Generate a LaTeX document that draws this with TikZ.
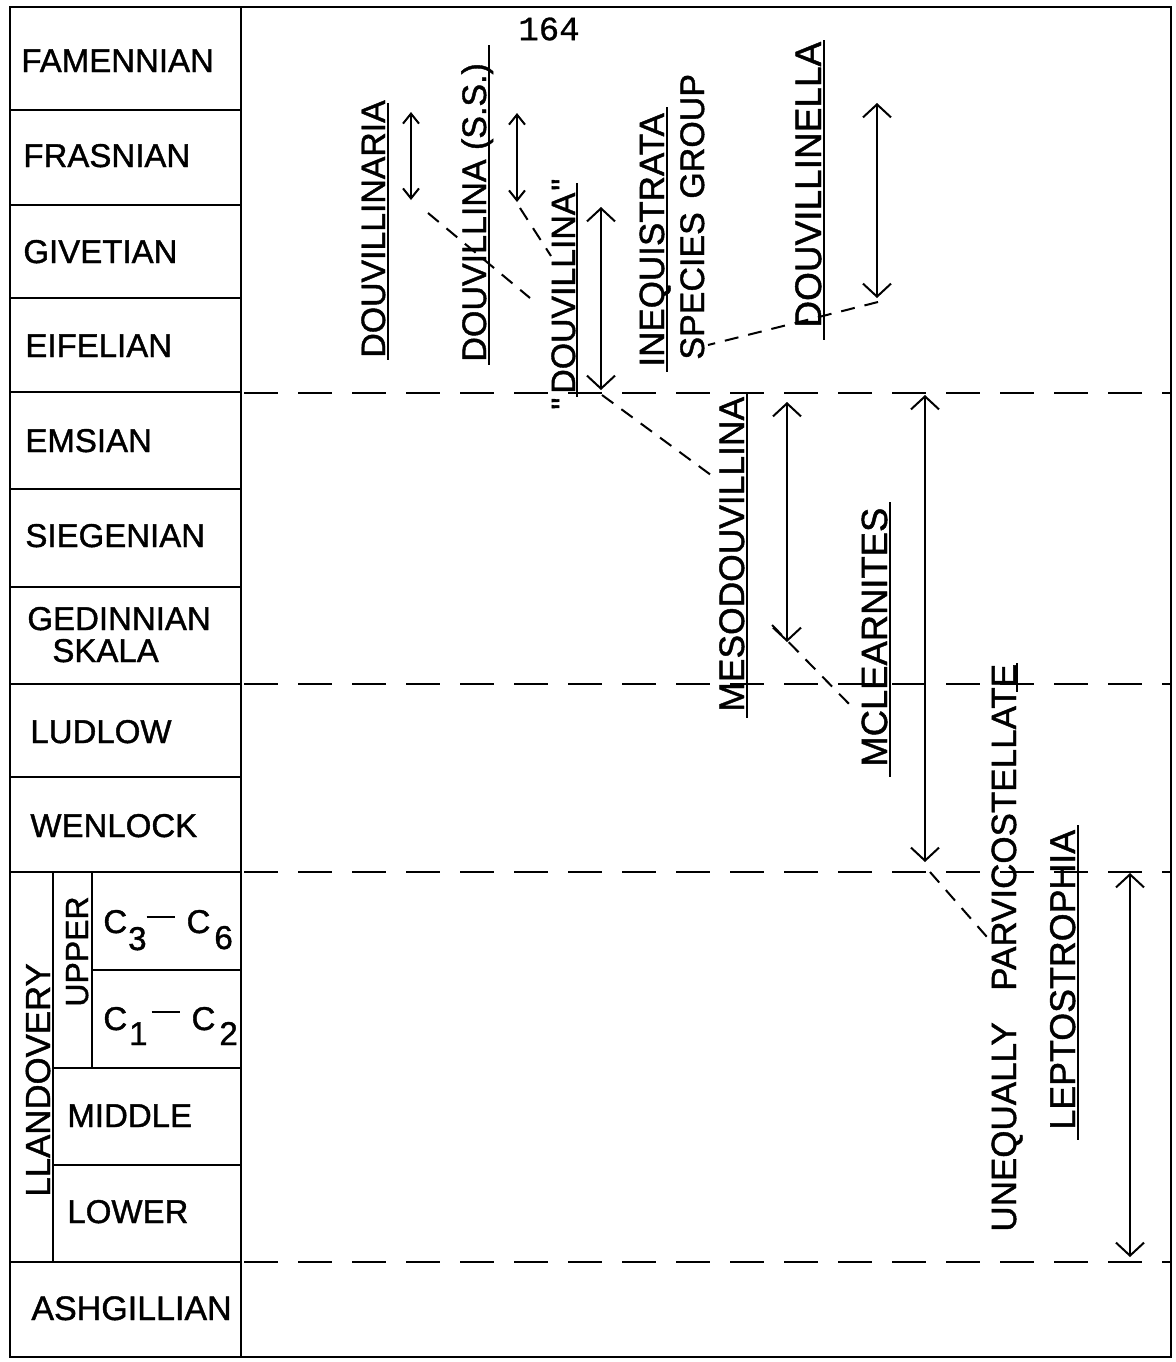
\documentclass[tikz,border=0pt]{standalone}
\usepackage{fontspec}
\setmainfont{Liberation Sans}[FakeBold=1.2]
\newfontfamily\monof{Liberation Mono}[FakeBold=0.8]
\usetikzlibrary{arrows.meta}
\begin{document}
\begin{tikzpicture}[x=0.5pt,y=-0.5pt,
  frame/.style={line width=1.4pt},
  bound/.style={line width=1.3pt, dash pattern=on 17pt off 10pt},
  link/.style={line width=1pt, dash pattern=on 7pt off 5pt},
  spanbig/.style={line width=1pt, {Straight Barb[length=6.5pt,width=14pt]}-{Straight Barb[length=6.5pt,width=14pt]}},
  spansm/.style={line width=1pt, {Straight Barb[length=5pt,width=8pt]}-{Straight Barb[length=5pt,width=8pt]}},
  uline/.style={line width=1pt},
  stage/.style={anchor=base west, inner sep=0pt, font=\fontsize{16.5}{18}\selectfont},
  taxon/.style={rotate=90, anchor=base west, inner sep=0pt, font=\fontsize{#1}{#1}\selectfont},
]
\useasboundingbox (0,0) rectangle (1175,1362);
\fill[white] (0,0) rectangle (1175,1362);

% frame and column
\draw[frame] (10,7) rectangle (1171,1357);
\draw[frame] (241,7) -- (241,1357);
\foreach \yy in {110,205,298,392,489,587,684,777,872,1262}
  \draw[frame] (10,\yy) -- (241,\yy);
\draw[frame] (92,970) -- (241,970);
\draw[frame] (53,1068) -- (241,1068);
\draw[frame] (53,1165) -- (241,1165);
\draw[frame] (53,872) -- (53,1262);
\draw[frame] (92,872) -- (92,1068);

% boundaries
\foreach \yy in {393,684,872,1262}
  \draw[bound] (244,\yy) -- (1171,\yy);

% stage names
\node[stage] (fam) at (21,72) {FAMENNIAN};
\node[stage] (fra) at (23,167) {FRASNIAN};
\node[stage] (giv) at (23,263) {GIVETIAN};
\node[stage] (eif) at (25,357) {EIFELIAN};
\node[stage] (ems) at (25,452) {EMSIAN};
\node[stage] (sie) at (25,547) {SIEGENIAN};
\node[stage] (ged) at (27,630) {GEDINNIAN};
\node[stage] (ska) at (52,662) {SKALA};
\node[stage] (lud) at (30,743) {LUDLOW};
\node[stage] (wen) at (30,837) {WENLOCK};
\node[stage] (cup) at (103,933) {C\kern0.5pt\raisebox{-8.5pt}{\fontsize{16.5}{16}\selectfont 3}\kern0pt\raisebox{7.5pt}{\rule{14pt}{1.2pt}}\kern6pt C\kern2pt\raisebox{-8pt}{\fontsize{16.5}{16}\selectfont 6}};
\node[stage] (clo) at (103,1030) {C\kern1pt\raisebox{-7.5pt}{\fontsize{16.5}{16}\selectfont 1}\kern2pt\raisebox{8.5pt}{\rule{14pt}{1.2pt}}\kern6pt C\kern2pt\raisebox{-7.5pt}{\fontsize{16.5}{16}\selectfont 2}};
\node[stage] (mid) at (67,1127) {MIDDLE};
\node[stage] (low) at (67,1223) {LOWER};
\node[stage, font=\fontsize{17}{18}\selectfont] (ash) at (31,1320) {ASHGILLIAN};
\node[taxon=17.4] (lla) at (50,1197) {LLANDOVERY};
\node[taxon=16] (upp) at (88,1007) {UPPER};

% page number
\node[font=\monof\fontsize{17}{17}\selectfont, inner sep=0pt] (pg) at (549,29) {164};

% taxa
\node[taxon=16.9] (t1) at (385,358) {DOUVILLINARIA};
\node[taxon=17] (t2) at (486,362) {DOUVILLINA (S.S.)};
\node[taxon=16.9] (t3) at (575,410) {\textquotedbl\hspace{2pt}DOUVILLINA\hspace{1pt}\textquotedbl};
\node[taxon=17.5] (t4) at (664,367) {INEQUISTRATA};
\node[taxon=17] (t5) at (704,360) {SPECIES\hspace{0.4em}GROUP};
\node[taxon=18.5] (t6) at (821,328) {DOUVILLINELLA};
\node[taxon=17.7] (t7) at (744,712) {MESODOUVILLINA};
\node[taxon=18.2] (t8) at (887,767) {MCLEARNITES};
\node[taxon=17.5] (t9) at (1016,1232) {UNEQUALLY\hspace{0.9em}PARVICOSTELLATE};
\node[taxon=17.9] (t10) at (1075,1130) {LEPTOSTROPHIA};

% underlines
\draw[uline] (388,103) -- (388,360);
\draw[uline] (489,45) -- (489,365);
\draw[uline] (577,183) -- (577,397);
\draw[uline] (667,107) -- (667,372);
\draw[uline] (824,40) -- (824,340);
\draw[uline] (747,392) -- (747,718);
\draw[uline] (890,502) -- (890,777);
\draw[uline] (1078,825) -- (1078,1140);
\draw[uline] (1017,663) -- (1017,692);

% ranges
\coordinate (a1t) at (411,112); \coordinate (a1b) at (411,200);
\coordinate (a2t) at (517,113); \coordinate (a2b) at (517,202);
\coordinate (a3t) at (601,207); \coordinate (a3b) at (601,390);
\coordinate (a4t) at (877,103); \coordinate (a4b) at (877,298);
\coordinate (a5t) at (787,402); \coordinate (a5b) at (787,642);
\coordinate (a6t) at (925,395); \coordinate (a6b) at (925,862);
\coordinate (a7t) at (1130,873); \coordinate (a7b) at (1130,1257);
\draw[spansm] (a1t) -- (a1b);
\draw[spansm] (a2t) -- (a2b);
\draw[spanbig] (a3t) -- (a3b);
\draw[spanbig] (a4t) -- (a4b);
\draw[spanbig] (a5t) -- (a5b);
\draw[spanbig] (a6t) -- (a6b);
\draw[spanbig] (a7t) -- (a7b);

% derivation links
\coordinate (c1s) at (428,213); \coordinate (c1e) at (530,298);
\coordinate (c2s) at (520,208); \coordinate (c2e) at (551,256);
\coordinate (c3s) at (602,395); \coordinate (c3e) at (715,478);
\coordinate (c4s) at (772,625); \coordinate (c4e) at (853,708);
\coordinate (c5s) at (930,872); \coordinate (c5e) at (987,937);
\coordinate (c6s) at (878,302); \coordinate (c6e) at (708,345);
\draw[link] (c1s) -- (c1e);
\draw[link] (c2s) -- (c2e);
\draw[link] (c3s) -- (c3e);
\draw[link] (c4s) -- (c4e);
\draw[link] (c5s) -- (c5e);
\draw[link] (c6s) -- (c6e);
\end{tikzpicture}
\end{document}
